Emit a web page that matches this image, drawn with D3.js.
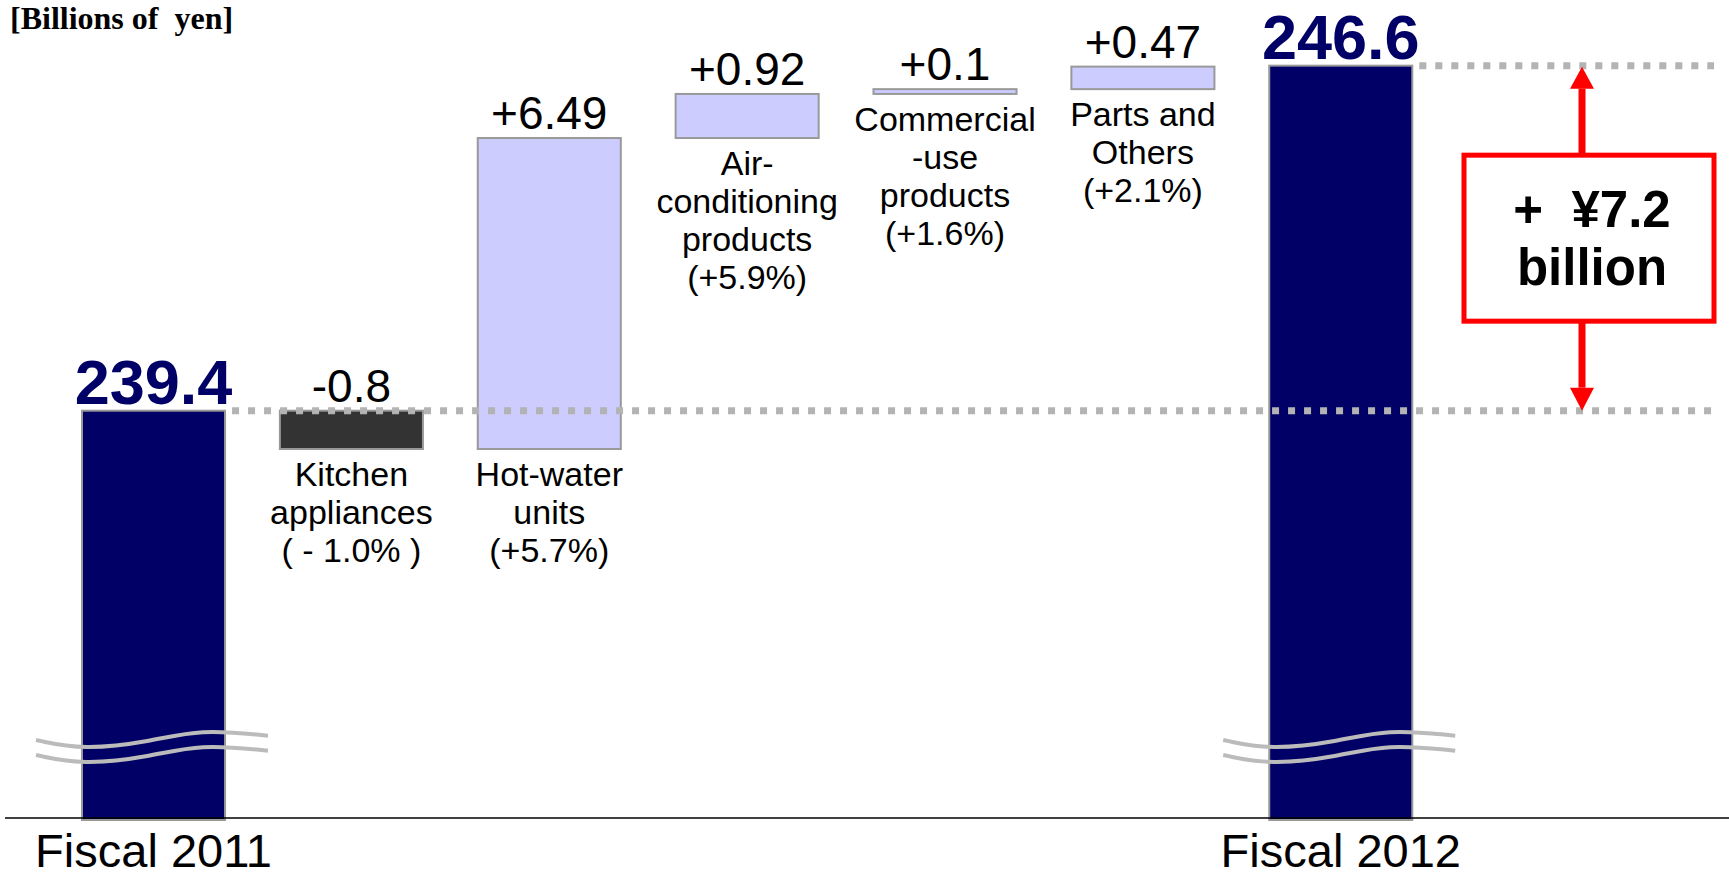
<!DOCTYPE html>
<html>
<head>
<meta charset="utf-8">
<script src="https://cdn.jsdelivr.net/npm/d3@7"></script>
<style>
  html, body { margin: 0; padding: 0; background: #ffffff; }
  svg { display: block; }
  text { font-family: "Liberation Sans", Arial, sans-serif; }
</style>
</head>
<body>
<svg id="chart" width="1729" height="878"></svg>
<script>
// Net sales bridge, fiscal 2011 -> fiscal 2012 (billions of yen)
const categories = ["Fiscal 2011", "Kitchen", "Hot-water", "Air-conditioning", "Commercial-use", "Parts", "Fiscal 2012"];
const totals = [239.4, 246.6];
const changes = [-0.8, 6.49, 0.92, 0.1, 0.47];
const changeLabels = ["-0.8", "+6.49", "+0.92", "+0.1", "+0.47"];
const segmentLabels = [
  ["Kitchen", "appliances", "( - 1.0% )"],
  ["Hot-water", "units", "(+5.7%)"],
  ["Air-", "conditioning", "products", "(+5.9%)"],
  ["Commercial", "-use", "products", "(+1.6%)"],
  ["Parts and", "Others", "(+2.1%)"]
];
const totalLabels = ["239.4", "246.6"];
const axisLabels = ["Fiscal 2011", "Fiscal 2012"];
const unitLabel = "[Billions of  yen]";
const diffLines = ["+  \u00a57.2", "billion"];
const yDomain = [230.9, 247];

const svg = d3.select("#chart");
const W = 1729;

const x = d3.scaleBand()
  .domain(categories)
  .range([82, 1412.3])
  .paddingInner(0.277)
  .paddingOuter(0);

const y = d3.scaleLinear().domain(yDomain).range([818, 46.5]);

const NAVY = "#000066", LIGHT = "#ccccff", DARK = "#333333", EDGE = "#999999";

// build waterfall steps
let running = totals[0];
const steps = changes.map((d, i) => {
  const start = running;
  running += d;
  return { cat: categories[i + 1], start, end: running, value: d, label: changeLabels[i], lines: segmentLabels[i] };
});
const totalBars = [
  { cat: categories[0], value: totals[0], label: totalLabels[0] },
  { cat: categories[6], value: totals[1], label: totalLabels[1] }
];

// unit caption
svg.append("text")
  .attr("x", 10).attr("y", 29)
  .style("font-family", "'Liberation Serif', 'Times New Roman', serif")
  .style("font-weight", "bold").style("font-size", "32px")
  .attr("xml:space", "preserve")
  .text(unitLabel);

// total bars (broken axis, drawn down to the baseline)
svg.selectAll("rect.total").data(totalBars).join("rect")
  .attr("class", "total")
  .attr("x", d => x(d.cat))
  .attr("y", d => y(d.value))
  .attr("width", x.bandwidth())
  .attr("height", d => y(yDomain[0]) - y(d.value) + 2)
  .attr("fill", NAVY).attr("stroke", EDGE).attr("stroke-width", 2);

// change bars
svg.selectAll("rect.step").data(steps).join("rect")
  .attr("class", "step")
  .attr("x", d => x(d.cat))
  .attr("y", d => y(Math.max(d.start, d.end)))
  .attr("width", x.bandwidth())
  .attr("height", d => Math.abs(y(d.start) - y(d.end)))
  .attr("fill", d => d.value < 0 ? DARK : LIGHT)
  .attr("stroke", EDGE).attr("stroke-width", 2);

// reference dotted lines at both totals
const dots = svg.append("g")
  .attr("stroke", "#b3b3b3").attr("stroke-width", 7).attr("stroke-dasharray", "7 9");
dots.append("line")
  .attr("x1", x(categories[0]) + x.bandwidth() + 7).attr("x2", 1714)
  .attr("y1", y(totals[0])).attr("y2", y(totals[0]));
dots.append("line")
  .attr("x1", x(categories[6]) + x.bandwidth() + 7).attr("x2", 1714)
  .attr("y1", y(totals[1])).attr("y2", y(totals[1]));

// axis-break marks across the total bars
const wave = d3.line().curve(d3.curveBasis);
const waveShape = [[-46, 0], [1, 10], [68, 1.7], [118, -11], [186, -4.3]];
totalBars.forEach(d => {
  const x0 = x(d.cat);
  [740, 755].forEach(base => {
    svg.append("path")
      .attr("d", wave(waveShape.map(p => [x0 + p[0], base + p[1]])))
      .attr("fill", "none").attr("stroke", "#bbbbbb").attr("stroke-width", 4);
  });
});

// baseline
svg.append("line")
  .attr("x1", 5).attr("x2", W)
  .attr("y1", y(yDomain[0])).attr("y2", y(yDomain[0]))
  .attr("stroke", "#000").attr("stroke-width", 1.5);

// category axis for the two fiscal years
const axis = d3.axisBottom(x)
  .tickValues(axisLabels)
  .tickSize(0);
const gx = svg.append("g")
  .attr("transform", `translate(0,${y(yDomain[0])})`)
  .call(axis);
gx.select(".domain").remove();
gx.selectAll("text")
  .attr("y", 49).attr("dy", null)
  .attr("fill", "#000")
  .style("font-family", "'Liberation Sans', Arial, sans-serif")
  .style("font-size", "47px");

// total value labels
svg.selectAll("text.totalLabel").data(totalBars).join("text")
  .attr("class", "totalLabel")
  .attr("x", d => x(d.cat) + x.bandwidth() / 2)
  .attr("y", d => y(d.value) - 7)
  .attr("text-anchor", "middle")
  .attr("fill", NAVY)
  .style("font-weight", "bold").style("font-size", "63px")
  .text(d => d.label);

// change value labels
svg.selectAll("text.stepLabel").data(steps).join("text")
  .attr("class", "stepLabel")
  .attr("x", d => x(d.cat) + x.bandwidth() / 2)
  .attr("y", d => y(Math.max(d.start, d.end)) - 9)
  .attr("text-anchor", "middle")
  .style("font-size", "46px")
  .text(d => d.label);

// segment names and growth rates under each bar
steps.forEach(d => {
  const bottom = y(Math.min(d.start, d.end));
  const t = svg.append("text")
    .attr("text-anchor", "middle")
    .style("font-size", "34px")
    .attr("xml:space", "preserve");
  d.lines.forEach((line, i) => {
    t.append("tspan")
      .attr("x", x(d.cat) + x.bandwidth() / 2)
      .attr("y", bottom + 37 + i * 38)
      .text(line);
  });
});

// difference annotation
const yTop = y(totals[1]), yBot = y(totals[0]);
const boxW = 250, boxH = 166, boxX = 1464;
const boxY = (yTop + yBot) / 2 - boxH / 2;
const ax = 1582, headL = 23, headW = 12;
const red = "#ff0000";
svg.append("line")
  .attr("x1", ax).attr("x2", ax).attr("y1", boxY).attr("y2", yTop + headL)
  .attr("stroke", red).attr("stroke-width", 7);
svg.append("line")
  .attr("x1", ax).attr("x2", ax).attr("y1", boxY + boxH).attr("y2", yBot - headL)
  .attr("stroke", red).attr("stroke-width", 7);
svg.append("path")
  .attr("d", `M${ax},${yTop + 1}L${ax - headW},${yTop + headL}L${ax + headW},${yTop + headL}Z`)
  .attr("fill", red);
svg.append("path")
  .attr("d", `M${ax},${yBot}L${ax - headW},${yBot - headL}L${ax + headW},${yBot - headL}Z`)
  .attr("fill", red);
svg.append("rect")
  .attr("x", boxX).attr("y", boxY).attr("width", boxW).attr("height", boxH)
  .attr("fill", "#fff").attr("stroke", red).attr("stroke-width", 5);
const bt = svg.append("text")
  .attr("text-anchor", "middle")
  .attr("xml:space", "preserve")
  .style("font-weight", "bold").style("font-size", "51px");
diffLines.forEach((line, i) => {
  bt.append("tspan")
    .attr("x", boxX + boxW / 2 + 3)
    .attr("y", boxY + boxH / 2 - 11 + i * 58)
    .text(line);
});
</script>
</body>
</html>
